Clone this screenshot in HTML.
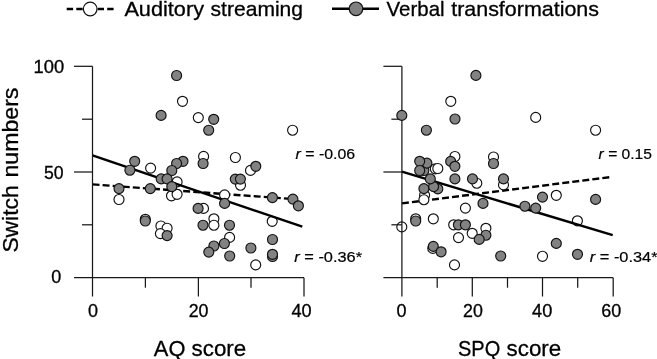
<!DOCTYPE html>
<html lang="en">
<head>
<meta charset="utf-8">
<title>Switch numbers vs AQ and SPQ scores</title>
<style>
html,body{margin:0;padding:0;background:#fff;}
body{width:657px;height:359px;overflow:hidden;}
svg{display:block;}
text{font-family:"Liberation Sans",sans-serif;fill:#000;stroke:#000;stroke-width:0.3px;}
.w{fill:#fff;stroke:#111;stroke-width:1.15;}
.g{fill:#828282;stroke:#111;stroke-width:1.15;}
.sl{stroke:#000;stroke-width:2.45;fill:none;}
.dl{stroke:#000;stroke-width:2.4;fill:none;stroke-dasharray:7 3.1;}
</style>
</head>
<body>
<svg width="657" height="359" viewBox="0 0 657 359">
<rect width="657" height="359" fill="#fff"/>

<!-- legend -->
<path class="dl" d="M66.7 9H84M113.6 9H96" style="stroke-dasharray:6.4 3.2;stroke-width:2.5"/>
<circle cx="90.2" cy="9" r="6.8" fill="#fff" stroke="#111" stroke-width="1.2"/>
<text x="124.4" y="16" font-size="20.2" text-anchor="start" textLength="79.6" lengthAdjust="spacingAndGlyphs" >Auditory</text>
<text x="210.6" y="16" font-size="20.2" text-anchor="start" textLength="92.4" lengthAdjust="spacingAndGlyphs" >streaming</text>
<path class="sl" d="M332 8.8H379" style="stroke-width:2.4"/>
<circle cx="356" cy="8.8" r="6.8" fill="#808080" stroke="#111" stroke-width="1.2"/>
<text x="386.6" y="16" font-size="20.2" text-anchor="start" textLength="58" lengthAdjust="spacingAndGlyphs" >Verbal</text>
<text x="451.2" y="16" font-size="20.2" text-anchor="start" textLength="147.8" lengthAdjust="spacingAndGlyphs" >transformations</text>

<!-- y axis title -->
<text transform="translate(17.6 252.6) rotate(-90)" font-size="22.6" textLength="67.2" lengthAdjust="spacingAndGlyphs">Switch</text>
<text transform="translate(17.6 177.6) rotate(-90)" font-size="22.6" textLength="90" lengthAdjust="spacingAndGlyphs">numbers</text>

<!-- left panel -->
<path class="dl" d="M92.5 184.4L294 199.1"/>
<circle class="w" cx="182.5" cy="101.3" r="5"/>
<circle class="w" cx="198.3" cy="117.6" r="5"/>
<circle class="w" cx="203.6" cy="156.4" r="5"/>
<circle class="w" cx="235.4" cy="157.5" r="5"/>
<circle class="w" cx="292.6" cy="130.2" r="5"/>
<circle class="w" cx="150.6" cy="168.1" r="5"/>
<circle class="w" cx="177.1" cy="181.9" r="5"/>
<circle class="w" cx="171.5" cy="195.8" r="5"/>
<circle class="w" cx="177.1" cy="194.3" r="5"/>
<circle class="w" cx="119" cy="199.5" r="5"/>
<circle class="w" cx="250.5" cy="170.4" r="5"/>
<circle class="w" cx="240.5" cy="185.2" r="5"/>
<circle class="w" cx="224.6" cy="194.9" r="5"/>
<circle class="w" cx="203.5" cy="208.4" r="5"/>
<circle class="w" cx="213.9" cy="218.8" r="5"/>
<circle class="w" cx="213.9" cy="225.2" r="5"/>
<circle class="w" cx="272.2" cy="221.3" r="5"/>
<circle class="w" cx="229.6" cy="237.4" r="5"/>
<circle class="w" cx="255.7" cy="264.9" r="5"/>
<circle class="w" cx="145.3" cy="219.3" r="5"/>
<circle class="w" cx="160.9" cy="226" r="5"/>
<circle class="w" cx="167.1" cy="228.2" r="5"/>
<circle class="w" cx="160.4" cy="233.6" r="5"/>
<path class="sl" d="M92.5 155.4L302.3 226.7"/>
<path stroke="#181818" stroke-width="1.25" fill="none" d="M74.0 277.7H304.0"/>
<path stroke="#181818" stroke-width="1.25" fill="none" d="M92.5 66.3V296.5"/>
<path stroke="#181818" stroke-width="1.25" fill="none" d="M74.0 66.3H92.5"/>
<path stroke="#181818" stroke-width="1.25" fill="none" d="M82.0 119.2H92.5"/>
<path stroke="#181818" stroke-width="1.25" fill="none" d="M74.0 172.0H92.5"/>
<path stroke="#181818" stroke-width="1.25" fill="none" d="M82.0 224.8H92.5"/>
<path stroke="#181818" stroke-width="1.25" fill="none" d="M145.4 277.7V287.7"/>
<path stroke="#181818" stroke-width="1.25" fill="none" d="M198.4 277.7V296.5"/>
<path stroke="#181818" stroke-width="1.25" fill="none" d="M251.0 277.7V287.7"/>
<path stroke="#181818" stroke-width="1.25" fill="none" d="M304.0 277.7V296.5"/>
<circle class="g" cx="176.6" cy="75.5" r="5"/>
<circle class="g" cx="161.1" cy="115.4" r="5"/>
<circle class="g" cx="213.7" cy="119.3" r="5"/>
<circle class="g" cx="208.7" cy="130.2" r="5"/>
<circle class="g" cx="134.7" cy="161.3" r="5"/>
<circle class="g" cx="129.9" cy="170.2" r="5"/>
<circle class="g" cx="183.0" cy="161.3" r="5"/>
<circle class="g" cx="176.6" cy="163.5" r="5"/>
<circle class="g" cx="171.8" cy="170.5" r="5"/>
<circle class="g" cx="161.2" cy="178.9" r="5"/>
<circle class="g" cx="167.1" cy="178.9" r="5"/>
<circle class="g" cx="171.8" cy="186.6" r="5"/>
<circle class="g" cx="119.0" cy="188.6" r="5"/>
<circle class="g" cx="150.3" cy="188.6" r="5"/>
<circle class="g" cx="203.1" cy="163.5" r="5"/>
<circle class="g" cx="255.8" cy="166.3" r="5"/>
<circle class="g" cx="235.3" cy="179.1" r="5"/>
<circle class="g" cx="240.4" cy="179.1" r="5"/>
<circle class="g" cx="224.6" cy="203.4" r="5"/>
<circle class="g" cx="272.4" cy="197.6" r="5"/>
<circle class="g" cx="292.9" cy="199.1" r="5"/>
<circle class="g" cx="298.4" cy="205.8" r="5"/>
<circle class="g" cx="198.1" cy="208.4" r="5"/>
<circle class="g" cx="203" cy="225.2" r="5"/>
<circle class="g" cx="229.5" cy="225.2" r="5"/>
<circle class="g" cx="145.3" cy="221" r="5"/>
<circle class="g" cx="167.1" cy="235.6" r="5"/>
<circle class="g" cx="224.4" cy="243.5" r="5"/>
<circle class="g" cx="213.9" cy="246" r="5"/>
<circle class="g" cx="208.8" cy="252.1" r="5"/>
<circle class="g" cx="229.7" cy="256" r="5"/>
<circle class="g" cx="250.9" cy="248" r="5"/>
<circle class="g" cx="272.5" cy="239.5" r="5"/>
<circle class="g" cx="272.5" cy="256.5" r="5"/>
<circle class="g" cx="272.5" cy="254.3" r="5"/>
<text x="64.2" y="72.8" font-size="17.8" text-anchor="end" textLength="30.6" lengthAdjust="spacingAndGlyphs" >100</text>
<text x="63.6" y="179" font-size="17.8" text-anchor="end" textLength="19.6" lengthAdjust="spacingAndGlyphs" >50</text>
<text x="61.2" y="283.0" font-size="17.8" text-anchor="end" textLength="10" lengthAdjust="spacingAndGlyphs" >0</text>
<text x="93" y="316.7" font-size="18.4" text-anchor="middle" textLength="10" lengthAdjust="spacingAndGlyphs" >0</text>
<text x="198.6" y="316.7" font-size="18.4" text-anchor="middle" textLength="19.8" lengthAdjust="spacingAndGlyphs" >20</text>
<text x="301.6" y="316.7" font-size="18.4" text-anchor="middle" textLength="20.2" lengthAdjust="spacingAndGlyphs" >40</text>
<text x="295.5" y="158.5" font-size="15.5" style="stroke-width:0.2px" textLength="59.6" lengthAdjust="spacingAndGlyphs"><tspan font-style="italic">r</tspan> = -0.06</text>
<text x="294.3" y="261.5" font-size="15.5" style="stroke-width:0.2px" textLength="67.8" lengthAdjust="spacingAndGlyphs"><tspan font-style="italic">r</tspan> = -0.36*</text>
<text x="153.8" y="356.3" font-size="22.6" text-anchor="start" textLength="31.6" lengthAdjust="spacingAndGlyphs" >AQ</text>
<text x="191.6" y="356.3" font-size="22.6" text-anchor="start" textLength="54.6" lengthAdjust="spacingAndGlyphs" >score</text>

<!-- right panel -->
<path class="dl" d="M401.9 203.4L610.3 177.1"/>
<circle class="w" cx="450.8" cy="101.3" r="5"/>
<circle class="w" cx="454.9" cy="156.5" r="5"/>
<circle class="w" cx="535.7" cy="117.4" r="5"/>
<circle class="w" cx="595.6" cy="130.2" r="5"/>
<circle class="w" cx="493.5" cy="157" r="5"/>
<circle class="w" cx="435.3" cy="168.8" r="5"/>
<circle class="w" cx="437.8" cy="168.5" r="5"/>
<circle class="w" cx="476.8" cy="183.2" r="5"/>
<circle class="w" cx="503.5" cy="184.9" r="5"/>
<circle class="w" cx="556.3" cy="195.3" r="5"/>
<circle class="w" cx="424.6" cy="195.2" r="5"/>
<circle class="w" cx="423.9" cy="199.7" r="5"/>
<circle class="w" cx="401.8" cy="226.9" r="5"/>
<circle class="w" cx="415.7" cy="218.8" r="5"/>
<circle class="w" cx="433.3" cy="218.8" r="5"/>
<circle class="w" cx="465.4" cy="208.1" r="5"/>
<circle class="w" cx="453.7" cy="224.8" r="5"/>
<circle class="w" cx="458.5" cy="237.6" r="5"/>
<circle class="w" cx="472.2" cy="233.3" r="5"/>
<circle class="w" cx="485.9" cy="228.3" r="5"/>
<circle class="w" cx="577.4" cy="220.8" r="5"/>
<circle class="w" cx="542.5" cy="256.3" r="5"/>
<circle class="w" cx="454.5" cy="264.9" r="5"/>
<circle class="w" cx="432.8" cy="248.4" r="5"/>
<path class="sl" d="M401.9 171.6L612.7 235.2"/>
<path stroke="#181818" stroke-width="1.25" fill="none" d="M383.4 277.7H613.2"/>
<path stroke="#181818" stroke-width="1.25" fill="none" d="M401.9 66.3V296.5"/>
<path stroke="#181818" stroke-width="1.25" fill="none" d="M383.4 66.3H401.9"/>
<path stroke="#181818" stroke-width="1.25" fill="none" d="M391.4 119.2H401.9"/>
<path stroke="#181818" stroke-width="1.25" fill="none" d="M383.4 172.0H401.9"/>
<path stroke="#181818" stroke-width="1.25" fill="none" d="M391.4 224.8H401.9"/>
<path stroke="#181818" stroke-width="1.25" fill="none" d="M437.2 277.7V287.7"/>
<path stroke="#181818" stroke-width="1.25" fill="none" d="M472.3 277.7V296.5"/>
<path stroke="#181818" stroke-width="1.25" fill="none" d="M507.5 277.7V287.7"/>
<path stroke="#181818" stroke-width="1.25" fill="none" d="M542.5 277.7V296.5"/>
<path stroke="#181818" stroke-width="1.25" fill="none" d="M577.7 277.7V287.7"/>
<path stroke="#181818" stroke-width="1.25" fill="none" d="M613.2 277.7V296.5"/>
<circle class="g" cx="475.9" cy="75.4" r="5"/>
<circle class="g" cx="401.8" cy="115.4" r="5"/>
<circle class="g" cx="455" cy="119" r="5"/>
<circle class="g" cx="426.4" cy="130.2" r="5"/>
<circle class="g" cx="423.9" cy="170.5" r="5"/>
<circle class="g" cx="426.9" cy="163.1" r="5"/>
<circle class="g" cx="419.7" cy="161.3" r="5"/>
<circle class="g" cx="419.7" cy="170.5" r="5"/>
<circle class="g" cx="450.7" cy="161.4" r="5"/>
<circle class="g" cx="454.9" cy="166.3" r="5"/>
<circle class="g" cx="493.5" cy="163.5" r="5"/>
<circle class="g" cx="423.9" cy="188.6" r="5"/>
<circle class="g" cx="437.8" cy="188.9" r="5"/>
<circle class="g" cx="433.6" cy="186.6" r="5"/>
<circle class="g" cx="430.3" cy="178.9" r="5"/>
<circle class="g" cx="454.9" cy="178.9" r="5"/>
<circle class="g" cx="472.5" cy="178.9" r="5"/>
<circle class="g" cx="503.5" cy="178.9" r="5"/>
<circle class="g" cx="483" cy="203.4" r="5"/>
<circle class="g" cx="524.9" cy="206.2" r="5"/>
<circle class="g" cx="535.7" cy="208.1" r="5"/>
<circle class="g" cx="542.5" cy="197.1" r="5"/>
<circle class="g" cx="595.6" cy="199.4" r="5"/>
<circle class="g" cx="415.7" cy="221" r="5"/>
<circle class="g" cx="458.4" cy="224.8" r="5"/>
<circle class="g" cx="465.4" cy="224.8" r="5"/>
<circle class="g" cx="485.9" cy="235.2" r="5"/>
<circle class="g" cx="479.2" cy="239.4" r="5"/>
<circle class="g" cx="433.3" cy="246.4" r="5"/>
<circle class="g" cx="441.1" cy="251.8" r="5"/>
<circle class="g" cx="500.7" cy="256" r="5"/>
<circle class="g" cx="556.3" cy="243.4" r="5"/>
<circle class="g" cx="577.5" cy="254.3" r="5"/>
<text x="401.4" y="316.7" font-size="18.4" text-anchor="middle" textLength="10" lengthAdjust="spacingAndGlyphs" >0</text>
<text x="473.0" y="316.7" font-size="18.4" text-anchor="middle" textLength="19.8" lengthAdjust="spacingAndGlyphs" >20</text>
<text x="542.2" y="316.7" font-size="18.4" text-anchor="middle" textLength="20.2" lengthAdjust="spacingAndGlyphs" >40</text>
<text x="611.3" y="316.7" font-size="18.4" text-anchor="middle" textLength="20" lengthAdjust="spacingAndGlyphs" >60</text>
<text x="598.6" y="158.5" font-size="15.5" style="stroke-width:0.2px" textLength="53.4" lengthAdjust="spacingAndGlyphs"><tspan font-style="italic">r</tspan> = 0.15</text>
<text x="589.8" y="261.5" font-size="15.5" style="stroke-width:0.2px" textLength="67.8" lengthAdjust="spacingAndGlyphs"><tspan font-style="italic">r</tspan> = -0.34*</text>
<text x="458" y="356.3" font-size="22.6" text-anchor="start" textLength="42.2" lengthAdjust="spacingAndGlyphs" >SPQ</text>
<text x="506.6" y="356.3" font-size="22.6" text-anchor="start" textLength="54.6" lengthAdjust="spacingAndGlyphs" >score</text>
</svg>
</body>
</html>
